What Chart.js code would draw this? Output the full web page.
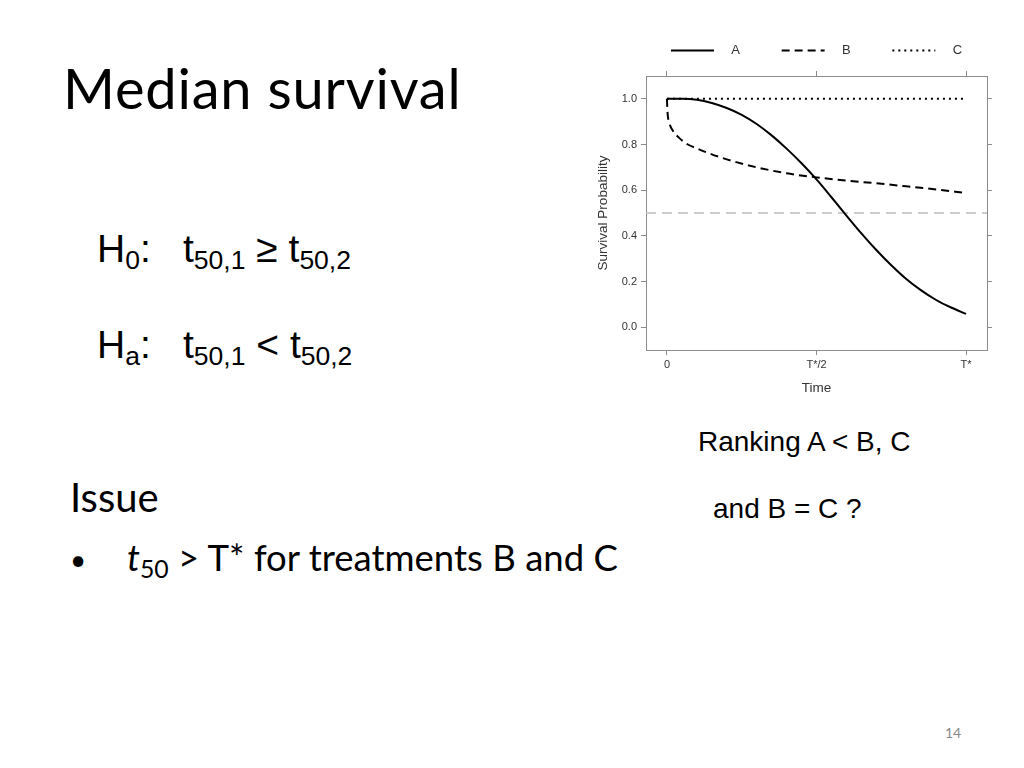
<!DOCTYPE html>
<html>
<head>
<meta charset="utf-8">
<script src="https://cdn.jsdelivr.net/npm/chart.js@4"></script>
<style>
  body { margin: 0; width: 1024px; height: 768px; background: #fff; overflow: hidden; position: relative; }
  .t { position: absolute; white-space: nowrap; line-height: 1; color: #000; }
  .arial { font-family: "Liberation Sans", Arial, sans-serif; }
  .cal { font-family: Lato, "Open Sans", sans-serif; }
  .sub { font-size: 0.68em; position: relative; top: 0.27em; }
  #wrap { position: absolute; left: 590px; top: 0px; width: 410px; height: 400px; }
</style>
</head>
<body>
<div class="t cal" style="left:63px; top:60px; font-size:56px; letter-spacing:0.8px;">Median survival</div>

<div class="t arial" style="left:97px; top:229px; font-size:39px;">H<span class="sub">0</span>:</div>
<div class="t arial" style="left:183px; top:229px; font-size:39px;">t<span class="sub">50,1</span> ≥ t<span class="sub">50,2</span></div>
<div class="t arial" style="left:97px; top:325px; font-size:39px;">H<span class="sub">a</span>:</div>
<div class="t arial" style="left:183px; top:325px; font-size:39px;">t<span class="sub">50,1</span> &lt; t<span class="sub">50,2</span></div>

<div class="t arial" style="left:698px; top:428px; font-size:28px;">Ranking A &lt; B, C</div>
<div class="t arial" style="left:713px; top:495px; font-size:28px;">and B = C ?</div>

<div class="t cal" style="left:70px; top:477px; font-size:40px;">Issue</div>
<div class="t cal" style="left:70px; top:545px; font-size:28px;">•</div>
<div class="t cal" style="left:127px; top:539px; font-size:36.5px;"><i>t</i><span class="sub">50</span> &gt; T* for treatments B and C</div>

<div class="t cal" style="left:945px; top:726px; font-size:14px; color:#888;">14</div>

<div id="wrap"><canvas id="survChart" width="410" height="400"></canvas></div>

<script>
// survival curves (time scaled so T* = 1)
const timeA = [0, 0.05, 0.1, 0.15, 0.2, 0.25, 0.3, 0.35, 0.4, 0.45, 0.5,
               0.55, 0.6, 0.65, 0.7, 0.75, 0.8, 0.85, 0.9, 0.95, 1.0];
const survA = [1.0, 1.0, 0.996, 0.982, 0.96, 0.93, 0.89, 0.84, 0.782, 0.718, 0.647,
               0.569, 0.489, 0.411, 0.338, 0.271, 0.211, 0.161, 0.119, 0.086, 0.058];

const timeB = [0, 0.002, 0.008, 0.02, 0.04, 0.07, 0.1, 0.15, 0.2, 0.3, 0.4, 0.5,
               0.6, 0.7, 0.8, 0.9, 1.0];
const survB = [1.0, 0.94, 0.895, 0.86, 0.83, 0.80, 0.783, 0.757, 0.735, 0.70, 0.674, 0.656,
               0.642, 0.63, 0.617, 0.603, 0.588];

const timeC = [0, 1.0];
const survC = [1.0, 1.0];

const medianLevel = 0.5;

const xTickValues = [0, 0.5, 1];
const xTickLabels = ['0', 'T*/2', 'T*'];
const yTickValues = [0, 0.2, 0.4, 0.6, 0.8, 1.0];

const xMin = -0.07, xMax = 1.07;
const yMin = -0.1, yMax = 1.1;

const seriesNames = ['A', 'B', 'C'];

function toPoints(xs, ys) {
  return xs.map((x, i) => ({ x: x, y: ys[i] }));
}

const frameColor = '#8c8c8c';
const textColor = '#333';
const font = { family: '"Liberation Sans", Arial, sans-serif', size: 11 };
const titleFont = { family: font.family, size: 13.5 };

function setTicks(values) {
  return function (scale) {
    scale.ticks = values.map(v => ({ value: v }));
  };
}

function axisBase(pos) {
  return {
    type: 'linear',
    position: pos,
    grid: { display: true, drawOnChartArea: false, drawTicks: true, tickLength: 5, color: frameColor },
    border: { display: true, color: frameColor, width: 1 }
  };
}

const ctx = document.getElementById('survChart').getContext('2d');
const chart = new Chart(ctx, {
  type: 'line',
  data: {
    datasets: [
      {
        label: seriesNames[0],
        data: toPoints(timeA, survA),
        borderColor: '#000', borderWidth: 2, pointRadius: 0,
        cubicInterpolationMode: 'monotone'
      },
      {
        label: seriesNames[1],
        data: toPoints(timeB, survB),
        borderColor: '#000', borderWidth: 2, borderDash: [8, 5], pointRadius: 0,
        cubicInterpolationMode: 'monotone'
      },
      {
        label: seriesNames[2],
        data: toPoints(timeC, survC),
        borderColor: '#000', borderWidth: 2, borderDash: [2, 4], pointRadius: 0
      },
      {
        label: 'median',
        data: toPoints([xMin, xMax], [medianLevel, medianLevel]),
        borderColor: '#bdbdbd', borderWidth: 1.5, borderDash: [10, 6], pointRadius: 0
      }
    ]
  },
  options: {
    responsive: false,
    animation: false,
    layout: { padding: { top: 24, left: 0, right: 0, bottom: 0 } },
    plugins: {
      tooltip: { enabled: false },
      legend: {
        position: 'top',
        fullSize: false,
        labels: {
          usePointStyle: true,
          pointStyle: 'line',
          pointStyleWidth: 43,
          padding: 20,
          color: textColor,
          font: { family: font.family, size: 13 },
          generateLabels: function (c) {
            const items = Chart.defaults.plugins.legend.labels.generateLabels(c);
            return items.filter(it => seriesNames.includes(it.text)).map((it, i) => {
              const ds = c.data.datasets[it.datasetIndex];
              it.lineWidth = 2;
              it.strokeStyle = ds.borderColor;
              it.lineDash = ds.borderDash || [];
              // spaces stand in for the wider gaps of the original legend
              it.text = '   ' + it.text + (i < seriesNames.length - 1 ? '      ' : '');
              return it;
            });
          }
        }
      }
    },
    scales: {
      x: Object.assign(axisBase('bottom'), {
        min: xMin, max: xMax,
        afterBuildTicks: setTicks(xTickValues),
        afterFit: s => { s.height = 50; },
        ticks: {
          color: textColor, font: font, padding: 3, maxRotation: 0,
          callback: v => xTickLabels[xTickValues.indexOf(v)]
        },
        title: { display: true, text: 'Time', color: textColor, font: titleFont, padding: 4 }
      }),
      x2: Object.assign(axisBase('top'), {
        min: xMin, max: xMax,
        afterBuildTicks: setTicks(xTickValues),
        afterFit: s => { s.height = 9; },
        ticks: { display: false }
      }),
      y: Object.assign(axisBase('left'), {
        min: yMin, max: yMax,
        afterBuildTicks: setTicks(yTickValues),
        afterFit: s => { s.width = 56; },
        ticks: { color: textColor, font: font, padding: 4, callback: v => v.toFixed(1) },
        title: { display: true, text: 'Survival Probability', color: textColor, font: titleFont, padding: { top: 5, bottom: 4 } }
      }),
      y2: Object.assign(axisBase('right'), {
        min: yMin, max: yMax,
        afterBuildTicks: setTicks(yTickValues),
        afterFit: s => { s.width = 13; },
        ticks: { display: false }
      })
    }
  }
});
</script>
</body>
</html>
